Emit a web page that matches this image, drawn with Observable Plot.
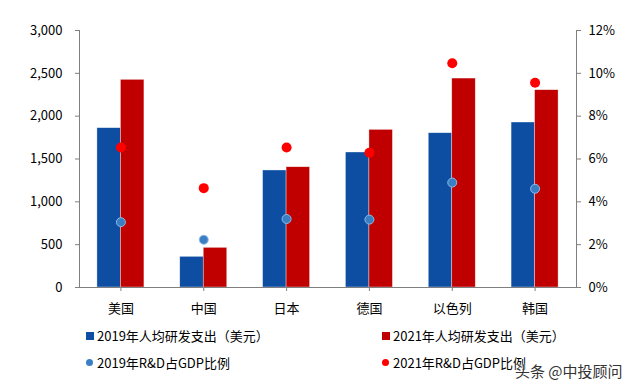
<!DOCTYPE html>
<html>
<head>
<meta charset="utf-8">
<script src="https://cdn.jsdelivr.net/npm/d3@7"></script>
<script src="https://cdn.jsdelivr.net/npm/@observablehq/plot@0.6"></script>
<style>
  html, body { margin: 0; padding: 0; background: #fff; }
  body { width: 640px; height: 388px; overflow: hidden; font-family: "Noto Sans CJK SC", "Noto Sans", sans-serif; }
  #chart { position: relative; width: 640px; height: 318px; }
  #legend { position: relative; width: 640px; height: 70px; font-size: 13px; color: #000; }
  .item { position: absolute; display: flex; align-items: center; white-space: nowrap; line-height: 1; }
  .sq { width: 8px; height: 8px; margin-right: 3px; }
  .dot { width: 7px; height: 7px; border-radius: 50%; margin-right: 4px; }
  #wm { position: absolute; left: 515px; top: 360px; font-size: 15px; color: #333; text-shadow: 0 0 2px #fff, 0 0 2px #fff; }
</style>
</head>
<body>
<div id="chart"></div>
<div id="legend"></div>
<div id="wm">头条 @中投顾问</div>
<script>
const categories = ["美国", "中国", "日本", "德国", "以色列", "韩国"];
const spend2019 = [1860, 358, 1366, 1576, 1801, 1926];
const spend2021 = [2424, 463, 1404, 1840, 2439, 2303];
const ratio2019 = [3.05, 2.23, 3.20, 3.17, 4.90, 4.61];
const ratio2021 = [6.54, 4.64, 6.54, 6.29, 10.47, 9.56];
const leftTicks = [0, 500, 1000, 1500, 2000, 2500, 3000];
const rightTicks = [0, 2, 4, 6, 8, 10, 12];
const seriesNames = ["2019年人均研发支出（美元）", "2021年人均研发支出（美元）", "2019年R&D占GDP比例", "2021年R&D占GDP比例"];

const leftMax = 3000, rightMax = 12;
const k = leftMax / rightMax;

const rows = categories.map((c, i) => ({
  cat: c, s19: spend2019[i], s21: spend2021[i], r19: ratio2019[i] * k, r21: ratio2021[i] * k
}));

const W = 640, H = 318, mL = 79, mR = 64, mT = 30, mB = 31;
const bw = (W - mL - mR) / categories.length;
const half = bw / 2, barW = 23.5;

const blue = "#0d4ea3", red = "#c00000", dotBlue = "#3a7ec3", dotRed = "#ff0000";
const axisColor = "#7f7f7f";

const chart = Plot.plot({
  width: W, height: H,
  marginLeft: mL, marginRight: mR, marginTop: mT, marginBottom: mB,
  style: { fontFamily: '"Noto Sans CJK SC", "Noto Sans", sans-serif', fontSize: "13px", color: "#000", background: "transparent" },
  x: { domain: categories, padding: 0, round: false, label: null },
  y: { domain: [0, leftMax], label: null },
  marks: [
    Plot.barY(rows, { x: "cat", y: "s19", fill: blue, insetLeft: half - barW, insetRight: half, stroke: "#fff", strokeOpacity: 0.6, strokeWidth: 0.6 }),
    Plot.barY(rows, { x: "cat", y: "s21", fill: red, insetLeft: half, insetRight: half - barW, stroke: "#fff", strokeOpacity: 0.6, strokeWidth: 0.6 }),
    Plot.dot(rows, { x: "cat", y: "r19", r: 4.5, fill: dotBlue, stroke: "#8fbbe6", strokeWidth: 1 }),
    Plot.dot(rows, { x: "cat", y: "r21", r: 5, fill: dotRed }),
    Plot.frame({ anchor: "left", stroke: axisColor }),
    Plot.frame({ anchor: "right", stroke: axisColor }),
    Plot.frame({ anchor: "bottom", stroke: axisColor }),
    Plot.axisY({ ticks: leftTicks, tickFormat: d3.format(","), tickSize: 4, tickPadding: 13, stroke: axisColor, label: null }),
    Plot.axisY({ anchor: "right", ticks: rightTicks.map(t => t * k), tickFormat: d => (d / k) + "%", tickSize: 4, tickPadding: 8, stroke: axisColor, label: null }),
    Plot.axisX({ tickSize: 4, tickPadding: 12, stroke: axisColor, label: null })
  ]
});
document.getElementById("chart").appendChild(chart);

const legend = document.getElementById("legend");
const items = [
  { name: seriesNames[0], color: blue, cls: "sq", left: 86, top: 11 },
  { name: seriesNames[1], color: red, cls: "sq", left: 382, top: 11 },
  { name: seriesNames[2], color: dotBlue, cls: "dot", left: 86, top: 38 },
  { name: seriesNames[3], color: dotRed, cls: "dot", left: 382, top: 38 }
];
for (const it of items) {
  const d = document.createElement("div");
  d.className = "item";
  d.style.left = it.left + "px";
  d.style.top = it.top + "px";
  const m = document.createElement("span");
  m.className = it.cls;
  m.style.background = it.color;
  const t = document.createElement("span");
  t.textContent = it.name;
  d.appendChild(m);
  d.appendChild(t);
  legend.appendChild(d);
}
</script>
</body>
</html>
